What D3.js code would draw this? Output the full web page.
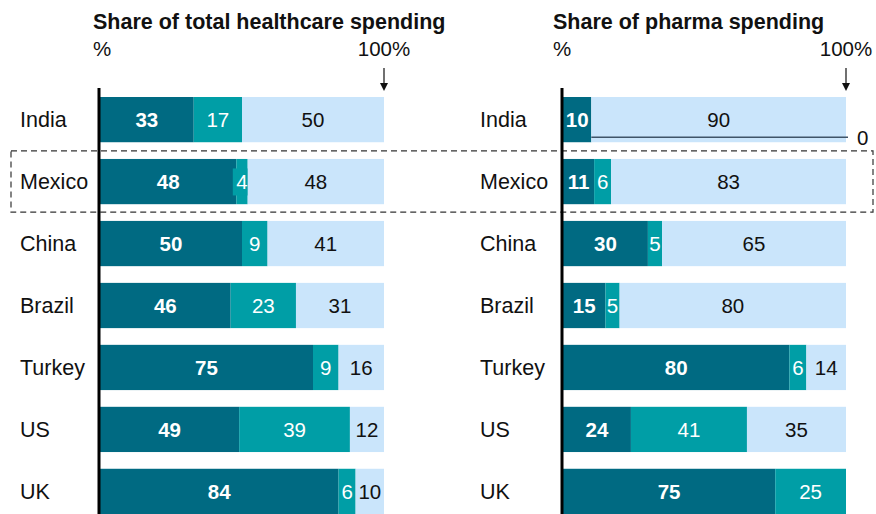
<!DOCTYPE html>
<html lang="en">
<head>
<meta charset="UTF-8">
<title>Healthcare vs pharma spending</title>
<style>
  body { margin: 0; background: #fff; }
  svg { font-family: "Liberation Sans", Arial, sans-serif; }
</style>
</head>
<body>
<div id="chart"></div>
<script src="https://d3js.org/d3.v7.min.js"></script>
<script>
// data
var countries = ["India", "Mexico", "China", "Brazil", "Turkey", "US", "UK"];
var healthDark  = [33, 48, 50, 46, 75, 49, 84];
var healthMid   = [17, 4, 9, 23, 9, 39, 6];
var healthLight = [50, 48, 41, 31, 16, 12, 10];
var pharmaDark  = [10, 11, 30, 15, 80, 24, 75];
var pharmaMid   = [0, 6, 5, 5, 6, 41, 25];
var pharmaLight = [90, 83, 65, 80, 14, 35, 0];
var panelTitles = ["Share of total healthcare spending", "Share of pharma spending"];

var colors = ["#006A82", "#009EA6", "#CAE5FB"];
var textColors = ["#fff", "#fff", "#111"];

var W = 876, H = 514;
var svg = d3.select("#chart").append("svg")
    .attr("width", W).attr("height", H);

var y = d3.scaleBand()
    .domain(countries)
    .range([97, 514])
    .paddingInner(0.27)
    .paddingOuter(0)
    .align(0);

// highlight box round Mexico
svg.append("rect")
    .attr("x", 11).attr("y", y("Mexico") - 8)
    .attr("width", 862).attr("height", y.bandwidth() + 16)
    .attr("fill", "none")
    .attr("stroke", "#333")
    .attr("stroke-width", 1.2)
    .attr("stroke-dasharray", "6,4");

var panels = [
  { title: panelTitles[0], data: [healthDark, healthMid, healthLight], x0: 100, x1: 384, labelX: 20, titleX: 93 },
  { title: panelTitles[1], data: [pharmaDark, pharmaMid, pharmaLight], x0: 563, x1: 846, labelX: 480, titleX: 553 }
];

panels.forEach(function(p) {
  var x = d3.scaleLinear().domain([0, 100]).range([p.x0, p.x1]);
  var g = svg.append("g");

  g.append("text").attr("x", p.titleX).attr("y", 29)
    .attr("font-size", 21.5).attr("font-weight", "bold").attr("fill", "#111")
    .text(p.title);
  g.append("text").attr("x", p.titleX).attr("y", 56)
    .attr("font-size", 20.5).attr("fill", "#111").text("%");
  g.append("text").attr("x", x(100)).attr("y", 56)
    .attr("text-anchor", "middle")
    .attr("font-size", 20.5).attr("fill", "#111").text("100%");
  // arrow
  g.append("line").attr("x1", x(100)).attr("x2", x(100))
    .attr("y1", 68).attr("y2", 86).attr("stroke", "#111").attr("stroke-width", 1.2);
  g.append("path")
    .attr("d", "M" + (x(100) - 4) + ",83L" + (x(100) + 4) + ",83L" + x(100) + ",91Z")
    .attr("fill", "#111");

  // category labels
  g.selectAll(".cat").data(countries).enter().append("text")
    .attr("x", p.labelX)
    .attr("y", function(d) { return y(d) + y.bandwidth() / 2; })
    .attr("dy", "0.36em")
    .attr("font-size", 21.5).attr("fill", "#111")
    .text(function(d) { return d; });

  // stacked segments
  countries.forEach(function(c, i) {
    var start = 0;
    p.data.forEach(function(series, k) {
      var v = series[i];
      var a = start, b = start + v;
      start = b;
      if (v === 0) return;
      g.append("rect")
        .attr("x", x(a)).attr("y", y(c))
        .attr("width", x(b) - x(a)).attr("height", y.bandwidth())
        .attr("fill", colors[k]);
      var lbl = g.append("text")
        .attr("x", (x(a) + x(b)) / 2)
        .attr("y", y(c) + y.bandwidth() / 2)
        .attr("dy", "0.36em")
        .attr("text-anchor", "middle")
        .attr("font-size", 20.5)
        .attr("font-weight", k === 0 ? "bold" : "normal")
        .attr("fill", textColors[k])
        .text(v);
      // label wider than its segment: put a background box behind it
      var bb = lbl.node().getBBox();
      if (k === 1 && bb.width + 1 > x(b) - x(a)) {
        g.insert("rect", function() { return lbl.node(); })
          .attr("x", bb.x - 3.5).attr("y", bb.y - 1.5)
          .attr("width", bb.width + 7).attr("height", bb.height + 4)
          .attr("fill", colors[k]);
      }
    });
  });

  // zero axis
  g.append("line").attr("x1", p.x0 - 1).attr("x2", p.x0 - 1)
    .attr("y1", 88).attr("y2", H)
    .attr("stroke", "#000").attr("stroke-width", 3);
});

// India pharma: mid segment is 0, shown by a leader line
var xp = d3.scaleLinear().domain([0, 100]).range([563, 846]);
var iy = y("India") + y.bandwidth() - 5;
svg.append("line")
  .attr("x1", xp(pharmaDark[0])).attr("x2", xp(100) + 2)
  .attr("y1", iy).attr("y2", iy)
  .attr("stroke", "#3F5468").attr("stroke-width", 1.5);
svg.append("text")
  .attr("x", xp(100) + 11).attr("y", iy)
  .attr("dy", "0.36em")
  .attr("font-size", 20.5).attr("fill", "#111")
  .text(pharmaMid[0]);
</script>
</body>
</html>
